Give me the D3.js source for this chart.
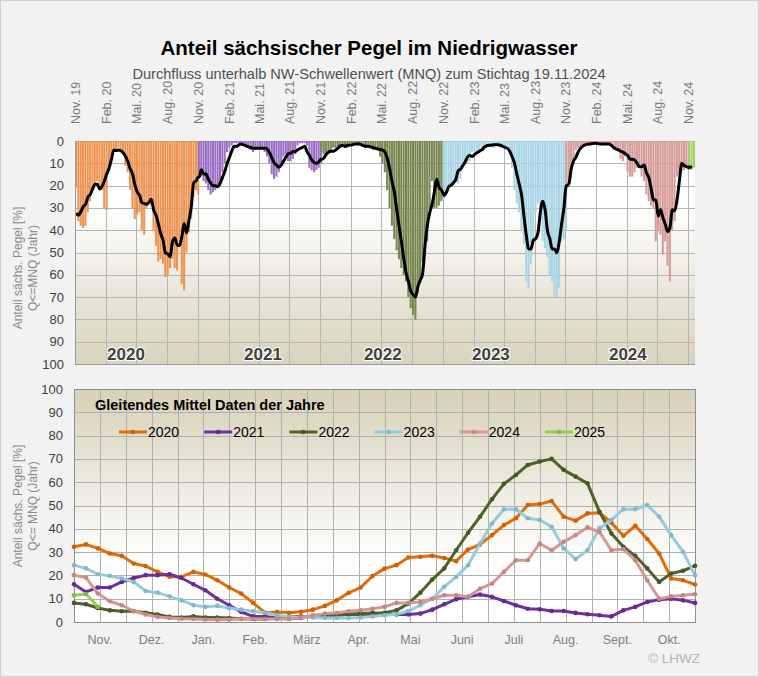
<!DOCTYPE html>
<html><head><meta charset="utf-8">
<script src="https://cdn.jsdelivr.net/npm/d3@7"></script>
<style>
body{margin:0;background:#f2f2f2}
svg{display:block}
text{font-family:"Liberation Sans",Arial,sans-serif}
</style>
</head><body>
<svg id="c" width="759" height="677"></svg>
<script>
// ---------- DATA ----------
const hydroYears = [2020, 2021, 2022, 2023, 2024, 2025];
const lineColors = ["#e46c0a", "#7030a0", "#4f6228", "#93cddd", "#d99694", "#92d050"];
const barColors  = ["#ee9250", "#9b6fc6", "#76864e", "#a7d5e5", "#d69b99", "#9fd36b"];

// weekly moving averages (Gleitendes Mittel), week 0 = 1 Nov of previous year
const mean2020 = [32.3,33.3,31.6,29.4,28.4,25.1,24,21.5,19.4,19.4,21.5,20.4,17.9,14.8,12.2,8.2,4,4.3,4,4.4,5.3,6.9,9.3,12.5,14.8,19.7,
  22.9,24.4,27.7,28,28.4,27.5,26.1,31.1,33.3,37.3,41.6,44.5,50.2,50.6,51.9,45.2,43.5,46.6,46.9,42.6,37,41.3,35.6,29.4,18.7,17.9,16.1];
const mean2021 = [16.2,12.9,14.8,14.8,17.2,18.9,20.1,20.1,20.5,18.9,16.2,13.6,10,7.2,4.3,2.4,2.4,1.7,1.4,1.7,2.2,2.6,2.9,3.2,3.2,3.3,
  3.2,3.2,3.2,3.6,5.3,7.6,9.8,10.8,11.8,10.8,9,7.2,5.7,5.5,4.7,4.7,3.9,3.3,2.9,2.4,5,6.5,8.6,9.6,10,9.3,8.2];
const mean2022 = [8.2,7.6,6,5,4.6,4.6,4,3.2,2.2,1.9,2.4,1.9,1.9,1.7,1.4,1.3,1.3,1.7,2.2,2.4,2.4,2.7,3,3.3,3.6,3.9,
  4,5,7.9,12.6,18.2,23,30.8,38.3,45.2,52.7,59.3,63.1,67.4,68.9,70,65.3,62.4,59.5,47.3,38,32.3,28.4,23,17.2,20.8,22,24.1];
const mean2023 = [24.4,23,20.5,19.8,18.7,17.2,13.3,12.6,11,9.3,7.2,6.5,6.9,6,5.3,4.6,4,2.9,2.2,1.9,1.9,1.7,1.7,1.7,1.9,2.4,
  2.9,3.3,4.7,7.2,10,15.1,19.4,24.4,33.7,42.3,48.4,48.4,44.5,43.8,40.9,31.6,27,30.8,40.2,43.8,48.4,48.4,50.2,45.2,37.3,30.1,20.1];
const mean2024 = [20.1,19.1,12.2,8.9,7.2,4.7,3.2,2.2,1.7,1.4,1.3,1.1,1,1.1,1.3,1.3,1.3,1.3,1.3,1.9,2.9,3.6,4,4.6,5,5.7,
  6.5,8.2,8.2,8.6,10,11.5,11.5,10.8,14.3,16.5,21.5,26.5,26.5,33.7,30.8,34.4,37.3,40.6,38.7,30.8,31.3,26.5,17.9,10,11,11.5,11.9];
const mean2025 = [11.5,12,6.5];

// weekly shares (bars in the upper chart)
const bars2020 = [21,36,38,39,38,32,27,22,19,18,21,22,30,31,12,8,4,4,3,4,5,11,14,22,30,35,33,32,40,42,
  30,28,29,40,47,54,53,55,61,60,57,53,57,58,45,64,67,50,41,35,25,22,24];
const bars2021 = [14,16,18,19,22,24,23,22,21,20,14,10,5,3,2,1,1,1,2,2,2,3,4,5,4,3,3,4,5,7,
  10,15,17,16,14,11,7,6,9,9,8,6,2,1,1,1,2,12,13,14,13,12,10];
const bars2022 = [5,6,6,5,4,3,3,3,3,2,3,3,2,1,1,1,1,2,2,3,3,3,4,3,4,
  7,10,14,22,30,38,44,49,53,57,60,63,70,75,78,80,68,62,54,50,45,30,18,30,30,29,27,26];
const bars2023 = [26,24,20,20,19,18,19,17,11,10,10,9,5,4,5,4,3,4,3,3,2,3,2,2,3,2,3,2,4,12,
  22,28,32,40,46,63,66,55,44,32,28,36,45,48,52,60,63,70,70,66,45,44,40];
const bars2024 = [20,18,11,10,4,3,3,2,2,2,2,1,1,1,1,1,1,1,1,1,2,3,4,8,9,7,14,16,16,14,
  12,12,16,18,24,27,29,30,45,40,42,51,45,56,63,40,36,16,15,14,13,12,13];
const bars2025 = [13,13,12];

const quarterLabels = ["Nov. 19","Feb. 20","Mai. 20","Aug. 20","Nov. 20","Feb. 21","Mai. 21","Aug. 21",
  "Nov. 21","Feb. 22","Mai. 22","Aug. 22","Nov. 22","Feb. 23","Mai. 23","Aug. 23","Nov. 23","Feb. 24",
  "Mai. 24","Aug. 24","Nov. 24"];
const monthLabels = ["Nov.","Dez.","Jan.","Feb.","März","Apr.","Mai","Juni","Juli","Aug.","Sept.","Okt."];
const yTicks = [0,10,20,30,40,50,60,70,80,90,100];
const yearLabelDates = [[2020,"2020-04-01"],[2021,"2021-05-14"],[2022,"2022-05-06"],[2023,"2023-03-24"],[2024,"2024-05-05"]];

const meanSeries = [mean2020, mean2021, mean2022, mean2023, mean2024, mean2025];
const barSeries  = [bars2020, bars2021, bars2022, bars2023, bars2024, bars2025];

// ---------- CHART ----------
const svg = d3.select("#c");
const W = 759, H = 677;
const DAY = 86400000;

svg.append("rect").attr("x",0.5).attr("y",0.5).attr("width",W-1).attr("height",H-1)
  .attr("fill","#f2f2f2").attr("stroke","#cfcfcf");

const defs = svg.append("defs");
const gradTop = defs.append("linearGradient").attr("id","gTop").attr("x1",0).attr("y1",0).attr("x2",0).attr("y2",1);
gradTop.append("stop").attr("offset","0").attr("stop-color","#ffffff");
gradTop.append("stop").attr("offset","0.28").attr("stop-color","#ffffff");
gradTop.append("stop").attr("offset","1").attr("stop-color","#d8d3bb");
const gradBot = defs.append("linearGradient").attr("id","gBot").attr("x1",0).attr("y1",0).attr("x2",0).attr("y2",1);
gradBot.append("stop").attr("offset","0").attr("stop-color","#d6d1b8");
gradBot.append("stop").attr("offset","0.75").attr("stop-color","#ffffff");
gradBot.append("stop").attr("offset","1").attr("stop-color","#ffffff");

// titles
svg.append("text").attr("x",369).attr("y",47).attr("text-anchor","middle").attr("dominant-baseline","central")
  .attr("font-size",20.5).attr("font-weight","bold").attr("fill","#000")
  .text("Anteil sächsischer Pegel im Niedrigwasser");
svg.append("text").attr("x",369).attr("y",74).attr("text-anchor","middle").attr("dominant-baseline","central")
  .attr("font-size",14.6).attr("fill","#505050")
  .text("Durchfluss unterhalb NW-Schwellenwert (MNQ) zum Stichtag 19.11.2024");

// ===== upper chart =====
const T = {l:75, r:695, t:141, b:364};
const x1 = d3.scaleUtc().domain([Date.UTC(2019,10,1), Date.UTC(2024,10,21)]).range([T.l, T.r]);
const y1 = d3.scaleLinear().domain([0,100]).range([T.t, T.b]);

svg.append("rect").attr("x",T.l).attr("y",T.t).attr("width",T.r-T.l).attr("height",T.b-T.t).attr("fill","url(#gTop)");

const qTicks = d3.utcMonths(Date.UTC(2019,10,1), Date.UTC(2024,10,2), 3);
const upper = svg.append("g");
upper.selectAll("line.hg").data(yTicks).join("line")
  .attr("x1",T.l).attr("x2",T.r).attr("y1",d=>Math.round(y1(d))+0.5).attr("y2",d=>Math.round(y1(d))+0.5)
  .attr("stroke","#b5b5b5");
upper.selectAll("line.vg").data(qTicks).join("line")
  .attr("x1",d=>Math.round(x1(d))+0.5).attr("x2",d=>Math.round(x1(d))+0.5).attr("y1",T.t).attr("y2",T.b)
  .attr("stroke","#b5b5b5");

// bars
hydroYears.forEach((yr, si) => {
  const start = Date.UTC(yr-1, 10, 1);
  const data = barSeries[si].map((v,k)=>({d:new Date(start + k*7*DAY), v}));
  upper.append("g").selectAll("rect").data(data).join("rect")
    .attr("x", d=>x1(d.d))
    .attr("width", d=>Math.max(0.5, x1(new Date(+d.d+7*DAY)) - x1(d.d) - 0.3))
    .attr("y", y1(0))
    .attr("height", d=>y1(d.v)-y1(0))
    .attr("fill", barColors[si]);
});

// moving average line (continuous)
const linePts = [];
hydroYears.forEach((yr, si) => {
  const start = Date.UTC(yr-1, 10, 1);
  const vals = yr === 2025 ? meanSeries[si].slice(0,2) : meanSeries[si];
  vals.forEach((v,k)=>linePts.push({d:new Date(start + k*7*DAY + 3.5*DAY), v}));
});
upper.append("path").datum(linePts)
  .attr("d", d3.line().x(d=>x1(d.d)).y(d=>y1(d.v)).curve(d3.curveMonotoneX))
  .attr("fill","none").attr("stroke","#000").attr("stroke-width",3).attr("stroke-linejoin","round");

// year labels
upper.selectAll("text.yl").data(yearLabelDates).join("text")
  .attr("x", d=>x1(new Date(d[1]+"T00:00:00Z"))).attr("y",360)
  .attr("text-anchor","middle").attr("font-size",17).attr("font-weight","bold")
  .attr("fill","#404040").attr("stroke","#ffffff").attr("stroke-width",2).attr("paint-order","stroke")
  .text(d=>d[0]);

// axes lines
upper.append("line").attr("x1",T.l+0.5).attr("x2",T.l+0.5).attr("y1",T.t).attr("y2",T.b).attr("stroke","#9a9a9a");
upper.append("line").attr("x1",T.l).attr("x2",T.r).attr("y1",T.b+0.5).attr("y2",T.b+0.5).attr("stroke","#9a9a9a");

// y tick labels
upper.selectAll("text.yt").data(yTicks).join("text")
  .attr("x",64).attr("y",d=>y1(d)).attr("text-anchor","end").attr("dominant-baseline","central")
  .attr("font-size",13).attr("fill","#404040").text(d=>d);
// x tick labels (rotated, reading upward)
upper.selectAll("text.xt").data(qTicks).join("text")
  .attr("transform",(d)=>`translate(${x1(d)+1},124) rotate(-90)`)
  .attr("text-anchor","start").attr("dominant-baseline","central")
  .style("font-family",'"Liberation Sans Narrow","Liberation Sans",Arial,sans-serif')
  .attr("font-size",12.5).attr("fill","#7a7a7a").text((d,i)=>quarterLabels[i]);

// y axis title
const yt1 = svg.append("text").attr("transform","translate(29,268) rotate(-90)")
  .attr("text-anchor","middle").attr("font-size",12).attr("fill","#8a8a8a");
yt1.append("tspan").attr("x",0).attr("dy","-0.6em").text("Anteil sächs. Pegel [%]");
yt1.append("tspan").attr("x",0).attr("dy","1.25em").text("Q<=MNQ (Jahr)");

// ===== lower chart =====
const B = {l:74, r:695, t:389, b:622};
const xw = d3.scaleLinear().domain([0,52]).range([B.l, B.r]);
const xm = d3.scaleBand().domain(monthLabels).range([B.l, B.r]);
const y2 = d3.scaleLinear().domain([0,100]).range([B.b, B.t]);

svg.append("rect").attr("x",B.l).attr("y",B.t).attr("width",B.r-B.l).attr("height",B.b-B.t).attr("fill","url(#gBot)");
const lower = svg.append("g");
lower.selectAll("line.hg").data(yTicks).join("line")
  .attr("x1",B.l).attr("x2",B.r).attr("y1",d=>Math.round(y2(d))+0.5).attr("y2",d=>Math.round(y2(d))+0.5)
  .attr("stroke","#b0b0b0");
const halfMonths = d3.range(0, monthLabels.length*2+1).map(j=>B.l + j*xm.bandwidth()/2);
lower.selectAll("line.vg").data(halfMonths).join("line")
  .attr("x1",d=>Math.round(d)+0.5).attr("x2",d=>Math.round(d)+0.5).attr("y1",B.t).attr("y2",B.b)
  .attr("stroke","#b0b0b0");
lower.append("rect").attr("x",B.l+0.5).attr("y",B.t+0.5).attr("width",B.r-B.l).attr("height",B.b-B.t)
  .attr("fill","none").attr("stroke","#8e8e8e");

hydroYears.forEach((yr, si) => {
  const vals = meanSeries[si];
  const g = lower.append("g");
  g.append("path").datum(vals)
    .attr("d", d3.line().x((d,i)=>xw(i)).y(d=>y2(d)))
    .attr("fill","none").attr("stroke",lineColors[si]).attr("stroke-width",3).attr("stroke-linejoin","round");
  g.selectAll("circle").data(vals).join("circle")
    .attr("cx",(d,i)=>xw(i)).attr("cy",d=>y2(d)).attr("r",2.3)
    .attr("fill",d3.color(lineColors[si]).darker(0.3));
});

lower.selectAll("text.yt").data(yTicks).join("text")
  .attr("x",63).attr("y",d=>y2(d)).attr("text-anchor","end").attr("dominant-baseline","central")
  .attr("font-size",13).attr("fill","#404040").text(d=>d);
lower.selectAll("text.xt").data(monthLabels).join("text")
  .attr("x",d=>xm(d)+xm.bandwidth()/2).attr("y",640).attr("text-anchor","middle").attr("dominant-baseline","central")
  .attr("font-size",12.5).attr("fill","#7f7f7f").text(d=>d);

const yt2 = svg.append("text").attr("transform","translate(29,506) rotate(-90)")
  .attr("text-anchor","middle").attr("font-size",12).attr("fill","#8a8a8a");
yt2.append("tspan").attr("x",0).attr("dy","-0.6em").text("Anteil  sächs. Pegel [%]");
yt2.append("tspan").attr("x",0).attr("dy","1.25em").text("Q<= MNQ (Jahr)");

// inner title + legend
svg.append("text").attr("x",95).attr("y",405).attr("dominant-baseline","central")
  .attr("font-size",14.5).attr("font-weight","bold").attr("fill","#000")
  .text("Gleitendes Mittel Daten der Jahre");
const leg = svg.append("g").selectAll("g").data(hydroYears).join("g")
  .attr("transform",(d,i)=>`translate(${119 + i*85.2},432)`);
leg.append("line").attr("x1",0).attr("x2",28).attr("y1",0).attr("y2",0)
  .attr("stroke",(d,i)=>lineColors[i]).attr("stroke-width",3);
leg.append("circle").attr("cx",14).attr("cy",0).attr("r",2.3).attr("fill",(d,i)=>d3.color(lineColors[i]).darker(0.3));
leg.append("text").attr("x",29).attr("y",0).attr("dominant-baseline","central")
  .attr("font-size",14).attr("fill","#000").text(d=>d);

svg.append("text").attr("x",700).attr("y",658).attr("text-anchor","end").attr("dominant-baseline","central")
  .attr("font-size",13.5).attr("fill","#b5b5b5").text("© LHWZ");
</script>
</body></html>
